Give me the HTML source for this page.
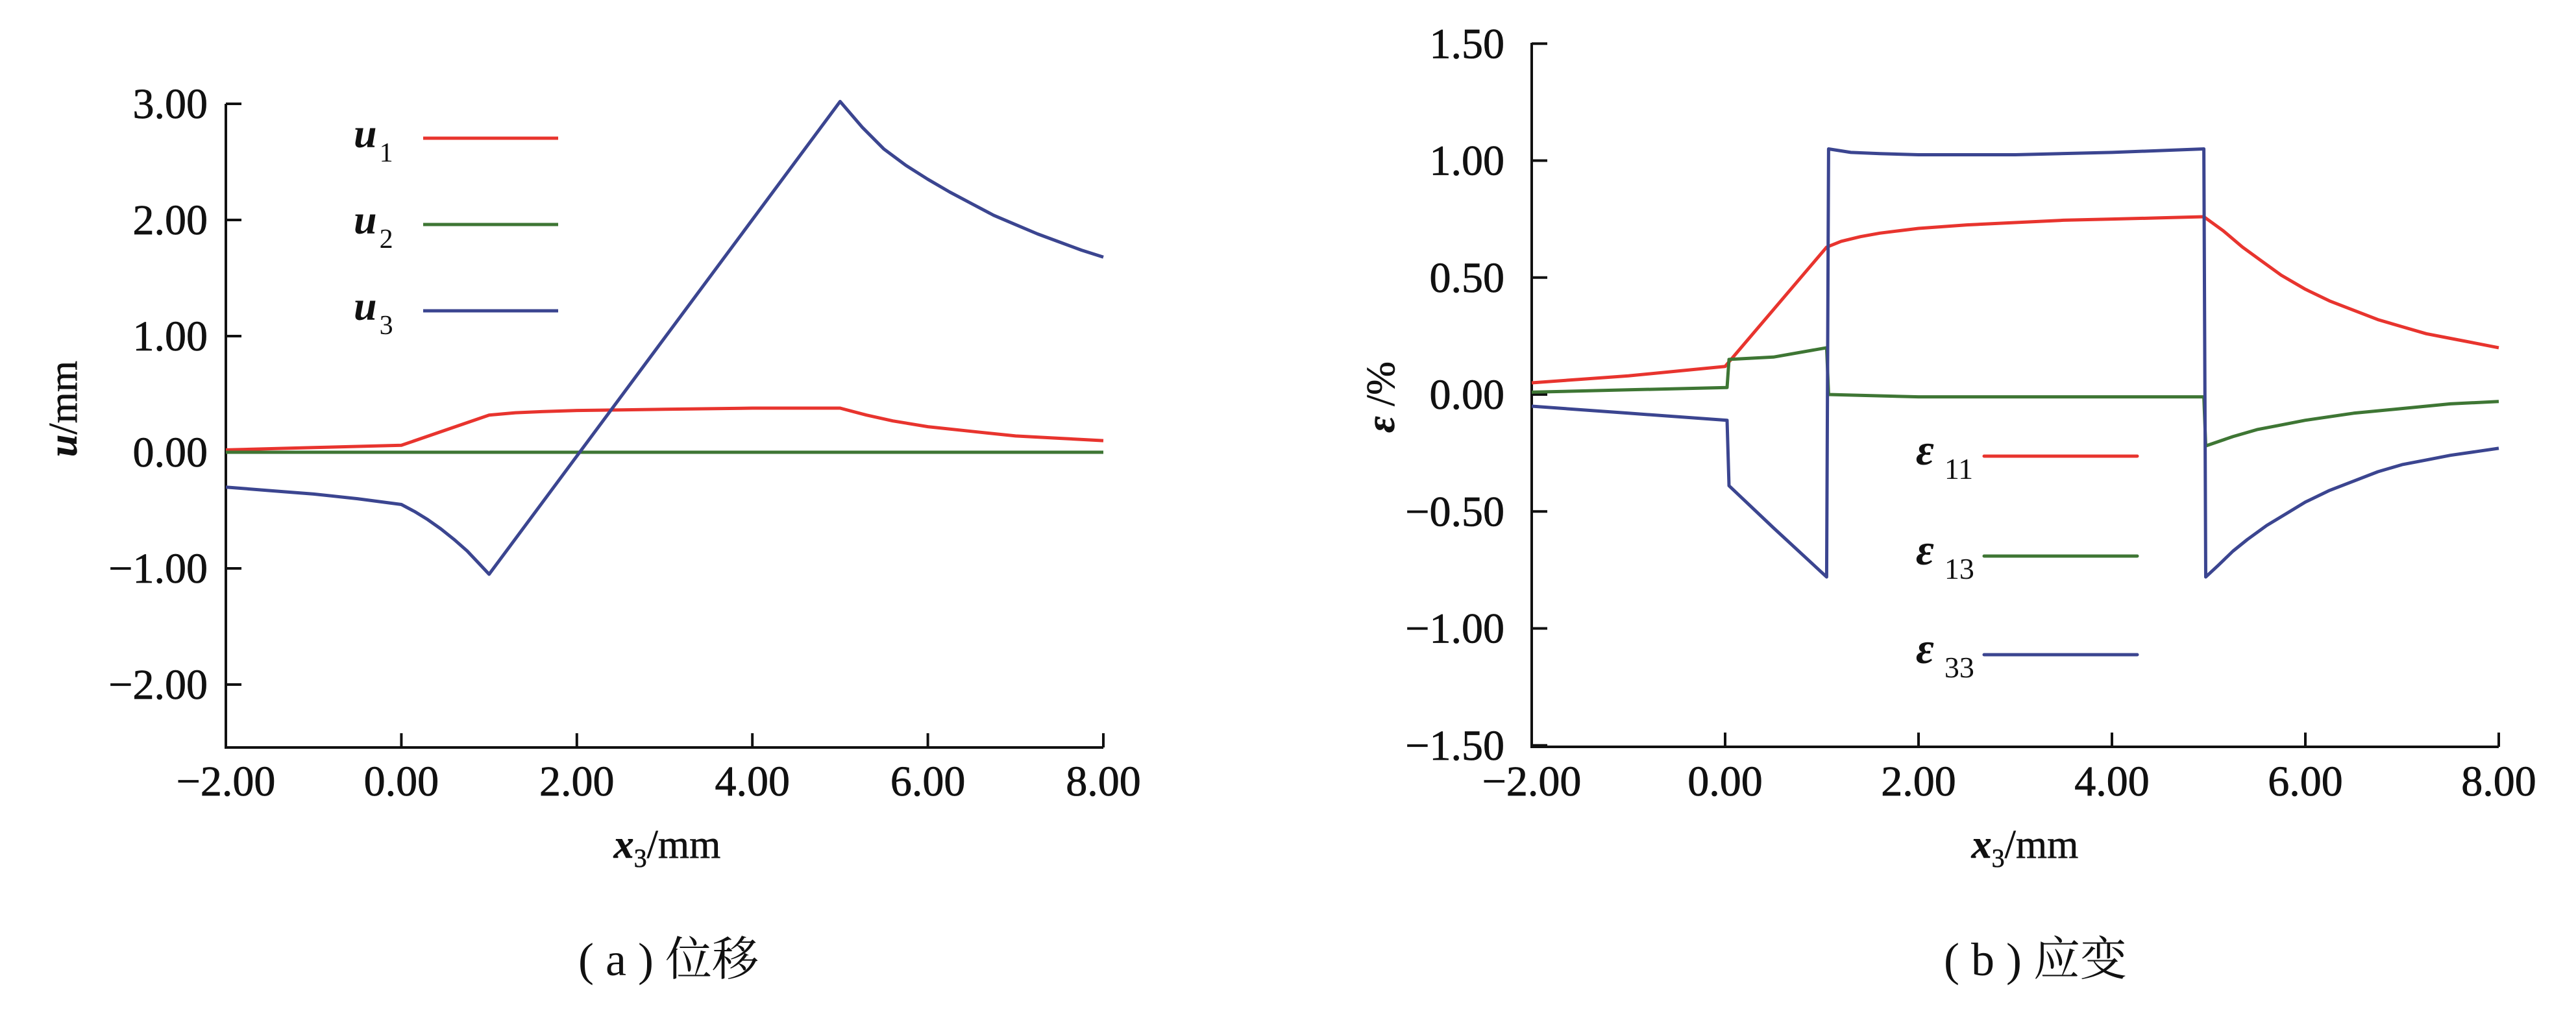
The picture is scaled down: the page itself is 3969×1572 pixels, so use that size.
<!DOCTYPE html>
<html><head><meta charset="utf-8">
<style>
html,body{margin:0;padding:0;background:#fff;}
svg{display:block;font-family:"Liberation Serif","Noto Serif CJK SC",serif;}
</style></head>
<body>
<svg id="fig" width="3969" height="1572" viewBox="0 0 3969 1572" xmlns="http://www.w3.org/2000/svg"></svg>
<script>
// ---- data: panel (a) displacement ----
const xTicks = [-2, 0, 2, 4, 6, 8];
const xTickLabels = ["\u22122.00", "0.00", "2.00", "4.00", "6.00", "8.00"];
const aYTicks = [-2, -1, 0, 1, 2, 3];
const aYTickLabels = ["\u22122.00", "\u22121.00", "0.00", "1.00", "2.00", "3.00"];
const u1X = [-2, -1, 0, 1, 1.3, 1.6, 2, 2.5, 3, 4, 5, 5.3, 5.6, 6, 6.5, 7, 7.5, 8];
const u1Y = [0.02, 0.04, 0.06, 0.32, 0.34, 0.35, 0.36, 0.365, 0.37, 0.38, 0.38, 0.32, 0.27, 0.22, 0.18, 0.14, 0.12, 0.10];
const u2X = [-2, 8];
const u2Y = [0, 0];
const u3X = [-2, -1.5, -1, -0.5, 0, 0.15, 0.3, 0.45, 0.6, 0.75, 0.9, 1, 5, 5.25, 5.5, 5.75, 6, 6.25, 6.5, 6.75, 7, 7.25, 7.5, 7.75, 8];
const u3Y = [-0.30, -0.33, -0.36, -0.40, -0.45, -0.51, -0.58, -0.66, -0.75, -0.85, -0.97, -1.05, 3.02, 2.80, 2.61, 2.47, 2.35, 2.24, 2.14, 2.04, 1.96, 1.88, 1.81, 1.74, 1.68];
// ---- data: panel (b) strain ----
const bYTicks = [-1.5, -1, -0.5, 0, 0.5, 1, 1.5];
const bYTickLabels = ["\u22121.50", "\u22121.00", "\u22120.50", "0.00", "0.50", "1.00", "1.50"];
const e11X = [-2, -1.5, -1, -0.5, 0, 1.05, 1.2, 1.4, 1.6, 1.8, 2, 2.5, 3, 3.5, 4, 4.5, 4.95, 5.15, 5.35, 5.55, 5.75, 6, 6.25, 6.5, 6.75, 7, 7.25, 7.5, 7.75, 8];
const e11Y = [0.05, 0.065, 0.08, 0.10, 0.12, 0.63, 0.655, 0.675, 0.69, 0.70, 0.71, 0.725, 0.735, 0.745, 0.75, 0.755, 0.76, 0.70, 0.63, 0.57, 0.51, 0.45, 0.40, 0.36, 0.32, 0.29, 0.26, 0.24, 0.22, 0.20];
const e13X = [-2, -1, 0.02, 0.04, 0.5, 1.05, 1.07, 2, 3, 4, 4.95, 4.97, 5.25, 5.5, 5.75, 6, 6.5, 7, 7.5, 8];
const e13Y = [0.01, 0.02, 0.03, 0.15, 0.16, 0.20, 0.00, -0.01, -0.01, -0.01, -0.01, -0.22, -0.18, -0.15, -0.13, -0.11, -0.08, -0.06, -0.04, -0.03];
const e33X = [-2, -1, 0.02, 0.04, 0.5, 1.05, 1.07, 1.3, 1.6, 2, 3, 4, 4.95, 4.97, 5.1, 5.25, 5.4, 5.6, 5.8, 6, 6.25, 6.5, 6.75, 7, 7.25, 7.5, 7.75, 8];
const e33Y = [-0.05, -0.08, -0.11, -0.39, -0.57, -0.78, 1.05, 1.035, 1.03, 1.025, 1.025, 1.035, 1.05, -0.78, -0.73, -0.67, -0.62, -0.56, -0.51, -0.46, -0.41, -0.37, -0.33, -0.30, -0.28, -0.26, -0.245, -0.23];

const NS = "http://www.w3.org/2000/svg";
const svg = document.getElementById('fig');
function mk(tag, attrs, parent){
  const e = document.createElementNS(NS, tag);
  for (const k in attrs) e.setAttribute(k, attrs[k]);
  (parent||svg).appendChild(e);
  return e;
}
const RED="#e8342e", GREEN="#3e7634", BLUE="#3b4590";

function panel(cfg){
  const g = mk('g', {});
  
  
  const sx = v => cfg.x0 + (v - (-2)) / 10 * (cfg.x1 - cfg.x0);
  const sy = v => cfg.yZero - v * cfg.unit;
  const ya = mk('line', {x1:cfg.x0, y1:cfg.yTop, x2:cfg.x0, y2:cfg.yBot, stroke:'#111', 'stroke-width':4}, g);
  
  
  const xa = mk('line', {x1:cfg.x0-2, y1:cfg.yBot, x2:cfg.x1, y2:cfg.yBot, stroke:'#111', 'stroke-width':4}, g);
  
  
  cfg.yTicks.forEach((v,i)=>{
    const y = sy(v);
    const t = mk('line', {x1:cfg.x0, y1:y, x2:cfg.x0+24, y2:y, stroke:'#111', 'stroke-width':4}, g);
    
    
    const lb = mk('text', {x:cfg.x0-cfg.labGap, y:y+22, 'font-size':66, 'text-anchor':'end', fill:'#111', stroke:'#111', 'stroke-width':0.8}, g);
    lb.textContent = cfg.yLabels[i];
    
    
  });
  xTicks.forEach((v,i)=>{
    const x = sx(v);
    const t = mk('line', {x1:x, y1:cfg.yBot, x2:x, y2:cfg.yBot-22, stroke:'#111', 'stroke-width':4}, g);
    
    
    const lb = mk('text', {x:x, y:1226, 'font-size':66, 'text-anchor':'middle', fill:'#111', stroke:'#111', 'stroke-width':0.8}, g);
    lb.textContent = xTickLabels[i];
    
    
  });
  cfg.series.forEach(s=>{
    const pts = s.x.map((v,i)=> sx(v).toFixed(1)+','+sy(s.y[i]).toFixed(1)).join(' ');
    const p = mk('polyline', {points:pts, fill:'none', stroke:s.color, 'stroke-width':5, 'stroke-linejoin':'round'}, g);
    
    
  });
  const xt = mk('text', {x:cfg.xtX, y:1322, 'font-size':62, 'text-anchor':'middle', fill:'#111', stroke:'#111', 'stroke-width':0.6}, g);
  xt.innerHTML = '<tspan font-style="italic" font-weight="bold">x</tspan><tspan font-size="40" dy="14">3</tspan><tspan dy="-14">/mm</tspan>';
  
  
  const cp = mk('text', {x:cfg.capX, y:1503, 'font-size':72, 'text-anchor':'middle', fill:'#111'}, g);
  cp.textContent = cfg.caption;
  
  
  return g;
}

panel({name:'displacement-chart', x0:348, x1:1700, yTop:160, yBot:1152, yZero:697, unit:179,
  yTicks:aYTicks, yLabels:aYTickLabels, labGap:28, xtX:1028, capX:1030, caption:'( a ) 位移',
  series:[{name:'u1-line',x:u1X,y:u1Y,color:RED},{name:'u2-line',x:u2X,y:u2Y,color:GREEN},{name:'u3-line',x:u3X,y:u3Y,color:BLUE}]});
panel({name:'strain-chart', x0:2360, x1:3850, yTop:66, yBot:1151, yZero:608, unit:360.5,
  yTicks:bYTicks, yLabels:bYTickLabels, labGap:42, xtX:3120, capX:3136, caption:'( b ) 应变',
  series:[{name:'e11-line',x:e11X,y:e11Y,color:RED},{name:'e13-line',x:e13X,y:e13Y,color:GREEN},{name:'e33-line',x:e33X,y:e33Y,color:BLUE}]});

const yta = mk('text', {x:0, y:0, 'font-size':62, 'text-anchor':'middle', fill:'#111', stroke:'#111', 'stroke-width':0.6, transform:'translate(118,630) rotate(-90)'});
yta.innerHTML = '<tspan font-style="italic" font-weight="bold">u</tspan>/mm';


const ytb = mk('text', {x:0, y:0, 'font-size':62, 'text-anchor':'middle', fill:'#111', stroke:'#111', 'stroke-width':0.6, transform:'translate(2148,612) rotate(-90)'});
ytb.innerHTML = '<tspan font-style="italic" font-weight="bold">ε</tspan> /%';



const legA = [["1",RED,213],["2",GREEN,346],["3",BLUE,479]];
legA.forEach(l=>{
  const t = mk('text', {x:545, y:l[2]+14, 'font-size':64, fill:'#111'});
  t.innerHTML = '<tspan font-style="italic" font-weight="bold">u</tspan><tspan font-size="42" dx="4" dy="22">'+l[0]+'</tspan>';
  
  
  const ln = mk('line', {x1:652, y1:l[2], x2:860, y2:l[2], stroke:l[1], 'stroke-width':5});
  
  
});
const legB = [["11",RED,703],["13",GREEN,857],["33",BLUE,1009]];
legB.forEach(l=>{
  const t = mk('text', {x:2952, y:l[2]+13, 'font-size':68, fill:'#111'});
  t.innerHTML = '<tspan font-style="italic" font-weight="bold">ε</tspan><tspan font-size="46" dx="16" dy="22">'+l[0]+'</tspan>';
  
  
  const ln = mk('line', {x1:3057, y1:l[2], x2:3293, y2:l[2], stroke:l[1], 'stroke-width':5, 'stroke-linecap':'round'});
  
  
});
</script>
</body></html>
